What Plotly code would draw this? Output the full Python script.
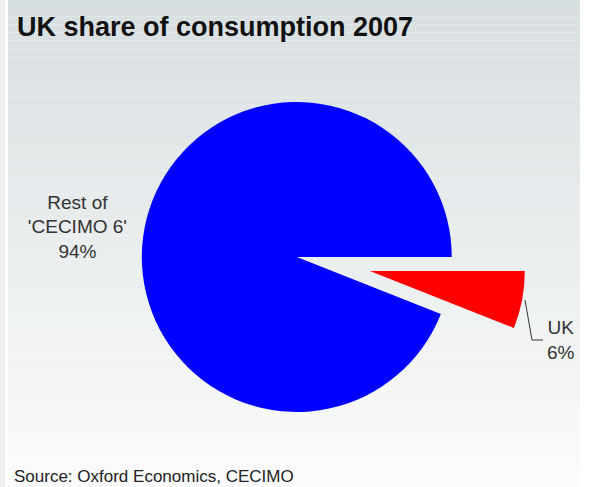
import plotly.graph_objects as go

# ---- data ----
labels = ["UK", "Rest of<br>'CECIMO 6'"]
values = [6, 94]
colors = ["#ff0000", "#0000ff"]
pulls = [0.48, 0]

title_text = "UK share of consumption 2007"
source_text = "Source: Oxford Economics, CECIMO"

W, H = 602, 487
FONT = "Liberation Sans, Arial, sans-serif"

total = sum(values)
uk_label_text = "UK<br>%d%%" % round(100 * values[0] / total)

fig = go.Figure()
fig.add_trace(go.Pie(
    labels=labels,
    values=values,
    sort=False,
    direction="clockwise",
    rotation=90,
    pull=pulls,
    marker=dict(colors=colors, line=dict(width=0)),
    textposition="outside",
    texttemplate=["", "%{label}<br>%{percent:.0%}"],
    outsidetextfont=dict(family=FONT, size=19, color="#333333"),
    domain=dict(x=[0.112, 0.874], y=[0.0013, 0.9433]),
    showlegend=False,
    hoverinfo="label+percent",
    automargin=False,
))

# background gradient panel
shapes = []
n = 60
top = (0xd8, 0xdf, 0xe1)
bot = (0xfb, 0xfb, 0xfb)
x0p, x1p = 8 / W, 580 / W
for i in range(n):
    t = i / (n - 1)
    c = tuple(round(top[k] + (bot[k] - top[k]) * t) for k in range(3))
    y1 = 1 - i / n
    y0 = 1 - (i + 1) / n
    shapes.append(dict(type="rect", xref="paper", yref="paper", x0=x0p, x1=x1p,
                       y0=y0, y1=y1, fillcolor="rgb(%d,%d,%d)" % c,
                       line=dict(width=0), layer="below"))
shapes.append(dict(type="rect", xref="paper", yref="paper", x0=0, x1=5 / W, y0=0, y1=1,
                   fillcolor="#eef0f0", line=dict(width=0), layer="below"))


def px(x, y):
    return x / W, 1 - y / H


# leader line for the UK label
p1, p2, p3 = px(525, 300), px(532, 340), px(543, 340)
shapes.append(dict(type="path", xref="paper", yref="paper",
                   path="M %f,%f L %f,%f L %f,%f" % (p1[0], p1[1], p2[0], p2[1], p3[0], p3[1]),
                   line=dict(color="#333333", width=1)))

ux, uy = px(545, 340)
tx, ty = px(15, 27)
sx, sy = px(12, 476)

fig.update_layout(
    width=W, height=H,
    margin=dict(l=0, r=0, t=0, b=0, pad=0, autoexpand=False),
    paper_bgcolor="white",
    plot_bgcolor="white",
    shapes=shapes,
    annotations=[
        dict(text="<b>" + title_text + "</b>", xref="paper", yref="paper",
             x=tx, y=ty, xanchor="left", yanchor="middle", showarrow=False,
             font=dict(family=FONT, size=27, color="#111111")),
        dict(text=source_text, xref="paper", yref="paper",
             x=sx, y=sy, xanchor="left", yanchor="middle", showarrow=False,
             font=dict(family=FONT, size=17, color="#222222")),
        dict(text=uk_label_text, xref="paper", yref="paper",
             x=ux, y=uy, xanchor="left", yanchor="middle", showarrow=False,
             align="center",
             font=dict(family=FONT, size=19, color="#333333")),
    ],
)

fig.write_html("out.html", config={"displayModeBar": False},
               post_script="document.body.style.margin='0px';")
